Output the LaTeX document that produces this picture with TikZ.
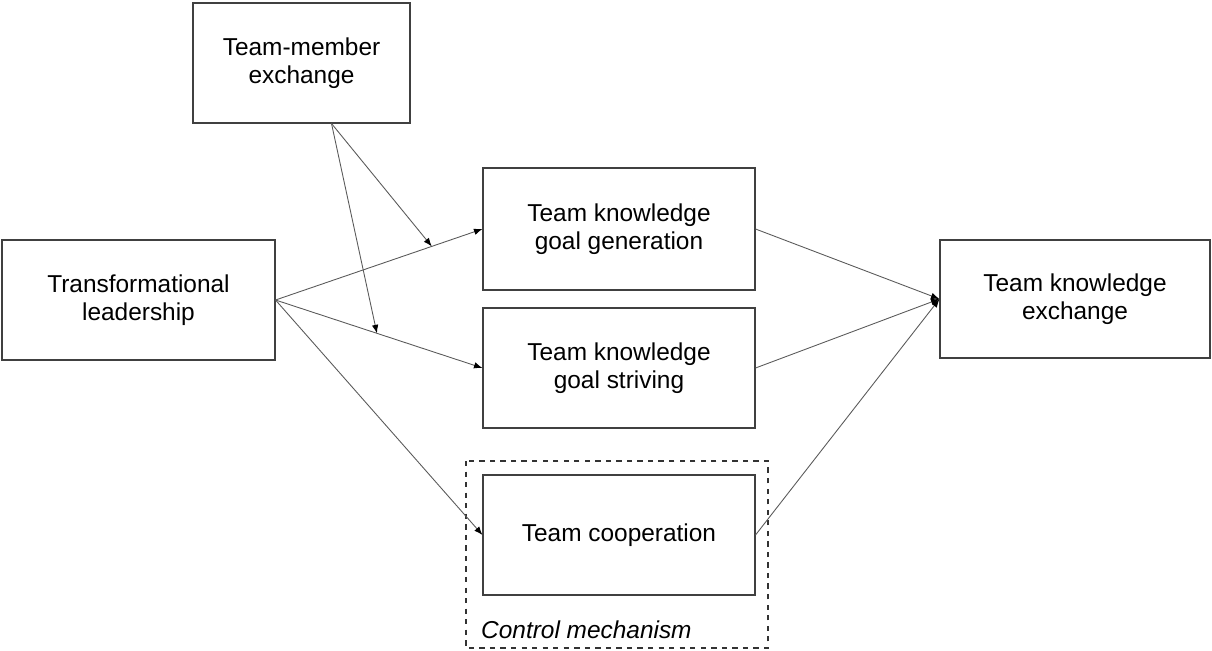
\documentclass[tikz,border=0pt]{standalone}
\usepackage{fontspec}
\setmainfont{Liberation Sans}
\usetikzlibrary{arrows.meta}
\usepackage{xcolor}

\tikzset{
  box/.style={draw=black!75, line width=.6pt, align=center, inner sep=2pt,
    font=\fontsize{13.9pt}{16pt}\selectfont},
  link/.style={draw=black!65, line width=.5pt, -{Latex[length=1.7mm,width=1.3mm,fill=black,color=black]}}
}

\begin{document}
\begin{tikzpicture}
\useasboundingbox (0,0) rectangle (24.24,-13.02);
\node [box, minimum width=4.34cm, minimum height=2.4cm] (tmx) at (6.03,-1.26) {Team-member\\exchange};
\node [box, minimum width=5.46cm, minimum height=2.4cm] (tl) at (2.77,-6.0) {Transformational\\leadership};
\node [box, minimum width=5.44cm, minimum height=2.44cm] (tkgg) at (12.38,-4.58) {Team knowledge\\goal generation};
\node [box, minimum width=5.44cm, minimum height=2.4cm] (tkgs) at (12.38,-7.36) {Team knowledge\\goal striving};
\node [box, minimum width=5.44cm, minimum height=2.4cm] (tc) at (12.38,-10.7) {Team cooperation};
\node [box, minimum width=5.4cm, minimum height=2.36cm] (tke) at (21.5,-5.98) {Team knowledge\\exchange};
\draw[black!80, line width=.6pt, dashed] (9.32,-9.22) rectangle (15.36,-12.96);
\node [anchor=west, font=\fontsize{13.9pt}{16pt}\selectfont\itshape] (ctrl) at (9.5,-12.6) {Control mechanism};

\coordinate (tmxout) at ([xshift=6mm]tmx.south);
\draw[link] (tl.east) -- coordinate[pos=.755] (modgg) (tkgg.west);
\draw[link] (tl.east) -- coordinate[pos=.49] (modgs) (tkgs.west);
\draw[link] (tl.east) -- (tc.west);
\draw[link] (tmxout) -- (modgg);
\draw[link] (tmxout) -- (modgs);
\draw[link] (tkgg.east) -- (tke.west);
\draw[link] (tkgs.east) -- (tke.west);
\draw[link] (tc.east) -- (tke.west);
\end{tikzpicture}
\end{document}
